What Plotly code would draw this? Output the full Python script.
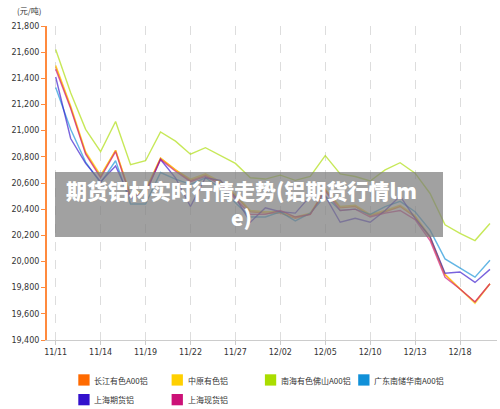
import plotly.graph_objects as go

# trading days shown on the chart (labels only every 3rd day)
dates = ["11/11", "11/12", "11/13", "11/14", "11/15", "11/18", "11/19", "11/20",
         "11/21", "11/22", "11/25", "11/26", "11/27", "11/28", "11/29", "12/02",
         "12/03", "12/04", "12/05", "12/06", "12/09", "12/10", "12/11", "12/12",
         "12/13", "12/16", "12/17", "12/18", "12/19", "12/20"]

# prices (元/吨)
changjiang = [21490, 21180, 20830, 20650, 20850, 20500, 20540, 20790, 20700, 20620,
              20660, 20600, 20500, 20380, 20370, 20370, 20330, 20360, 20550, 20410,
              20420, 20350, 20380, 20420, 20340, 20180, 19900, 19790, 19690, 19830]
zhongyuan = [21500, 21190, 20840, 20660, 20850, 20510, 20550, 20790, 20700, 20630,
             20670, 20610, 20510, 20390, 20380, 20380, 20340, 20370, 20550, 20420,
             20430, 20360, 20390, 20430, 20350, 20190, 19900, 19790, 19680, 19830]
nanhai = [21620, 21290, 21010, 20840, 21070, 20740, 20770, 20990, 20920, 20820,
          20870, 20810, 20750, 20640, 20630, 20660, 20620, 20650, 20810, 20670,
          20650, 20615, 20700, 20755, 20675, 20520, 20280, 20215, 20160, 20290]
guangdong = [21330, 21010, 20760, 20600, 20770, 20440, 20440, 20680, 20630, 20590,
             20640, 20560, 20450, 20340, 20340, 20380, 20310, 20370, 20500, 20390,
             20400, 20360, 20420, 20460, 20380, 20240, 20020, 19950, 19880, 20010]
sh_futures = [21410, 20940, 20750, 20610, 20730, 20480, 20520, 20780, 20640, 20420,
              20640, 20620, 20490, 20300, 20410, 20380, 20370, 20500, 20500, 20300,
              20330, 20300, 20390, 20500, 20330, 20190, 19910, 19920, 19840, 19940]
sh_spot = [21470, 21170, 20820, 20640, 20840, 20490, 20530, 20780, 20690, 20610,
           20650, 20590, 20480, 20360, 20360, 20390, 20340, 20360, 20540, 20390,
           20400, 20340, 20370, 20390, 20320, 20160, 19880, 19790, 19690, 19830]

names = ["长江有色A00铝", "中原有色铝", "南海有色佛山A00铝", "广东南储华南A00铝",
         "上海期货铝", "上海现货铝"]
colors = ["#FF6A00", "#FFD000", "#AADD00", "#1090D8", "#3311CC", "#CC1177"]
series = [changjiang, zhongyuan, nanhai, guangdong, sh_futures, sh_spot]

font = "DejaVu Sans"
cjk = "Noto Sans CJK SC"

# plot box in pixels, used to place the overlay and the legend
L, R, T, B = 47, 497, 26, 340


def px_x(x):
    return (x - L) / (R - L)


def px_y(y):
    return (B - y) / (B - T)


fig = go.Figure()

for name, color, vals in zip(names, colors, series):
    fig.add_trace(go.Scatter(
        x=dates, y=vals, mode="lines", name=name,
        line=dict(color=color, width=1.4), opacity=0.65,
        showlegend=False, hoverinfo="x+y+name"))

# legend: four entries per row, square swatch + label
for i, (name, color) in enumerate(zip(names, colors)):
    sx = 78.3 + (i % 4) * 93.3
    sy = 374.3 + (i // 4) * 19.7
    fig.add_shape(type="rect", xref="paper", yref="paper",
                  x0=px_x(sx), x1=px_x(sx + 11.3), y0=px_y(sy + 11.3), y1=px_y(sy),
                  fillcolor=color, line=dict(width=0))
    fig.add_annotation(xref="paper", yref="paper", x=px_x(sx + 14), y=px_y(sy + 5.8),
                       xanchor="left", yanchor="middle", text=name, showarrow=False,
                       font=dict(family=cjk, size=8, color="#333333"))

# grey caption box laid over the plot
fig.add_shape(type="rect", xref="paper", yref="paper", layer="above",
              x0=px_x(55), x1=px_x(443), y0=px_y(237), y1=px_y(172),
              fillcolor="rgba(125,125,125,0.72)", line=dict(width=0))

fig.add_annotation(xref="paper", yref="paper", x=px_x(241), y=px_y(203),
                   text="期货铝材实时行情走势(铝期货行情lm<br>e)",
                   showarrow=False, align="center",
                   font=dict(family=cjk, size=21, color="white", weight=900))

fig.add_annotation(xref="paper", yref="paper", x=px_x(15), y=px_y(10),
                   xanchor="left", yanchor="middle", text="(元/吨)", showarrow=False,
                   font=dict(family=cjk, size=8, color="#333333"))

fig.update_layout(
    width=500, height=409,
    margin=dict(l=L, r=500 - R, t=T, b=409 - B),
    plot_bgcolor="white", paper_bgcolor="white",
    font=dict(family=font, size=8, color="#333333"),
    showlegend=False,
)

fig.update_xaxes(
    type="category", range=[-0.58, 29.47],
    tickmode="array", tickvals=dates[::3], ticktext=dates[::3],
    showgrid=True, gridcolor="#dddddd", griddash="dash", gridwidth=1,
    showline=True, linecolor="#cccccc", linewidth=1,
    ticks="outside", ticklen=4, tickcolor="#cccccc",
    tickfont=dict(family=font, size=8, color="#333333"))

fig.update_yaxes(
    range=[19400, 21800], dtick=200, tickformat=",",
    showgrid=False, zeroline=False,
    showline=True, linecolor="#FF8A3D", linewidth=2,
    ticks="outside", ticklen=4, tickcolor="#FF8A3D",
    tickfont=dict(family=font, size=8, color="#333333"))

# the page's default body margin would push the 500x409 figure off the window
fig.write_html("out.html", config={"displayModeBar": False},
               post_script="document.body.style.margin='0';")
